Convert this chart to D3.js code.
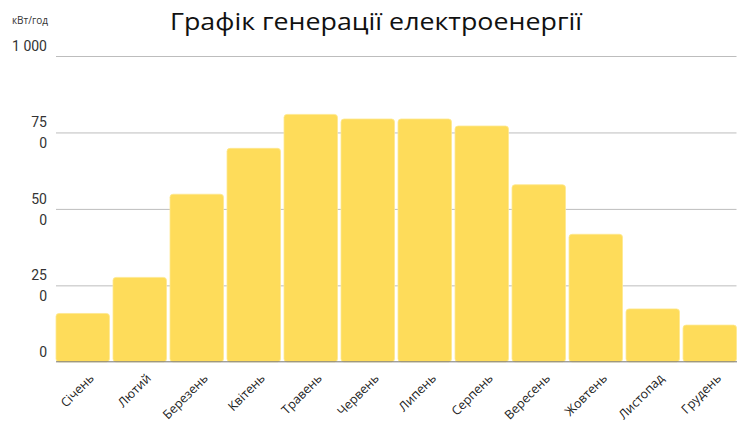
<!DOCTYPE html>
<html>
<head>
<meta charset="utf-8">
<script src="https://cdn.jsdelivr.net/npm/d3@7"></script>
<style>
  body { margin: 0; background: #fff; }
  text { font-family: "Open Sans", "Noto Sans", sans-serif; }
</style>
</head>
<body>
<script>
// chart size
var svgWidth = 737;
var svgHeight = 423;

// data
var months = ["Січень", "Лютий", "Березень", "Квітень", "Травень", "Червень",
  "Липень", "Серпень", "Вересень", "Жовтень", "Листопад", "Грудень"];
var energy = [158, 276, 548, 698, 809, 794, 794, 771, 579, 417, 173, 120];
var tickValues = [0, 250, 500, 750, 1000];
var tickLabels = [["0"], ["25", "0"], ["50", "0"], ["75", "0"], ["1 000"]];

var svg = d3.select("body")
  .append("svg")
  .attr("width", svgWidth)
  .attr("height", svgHeight);

// scales
var xScale = d3.scaleBand()
  .domain(months)
  .range([56, 736.5])
  .paddingInner(0.062)
  .paddingOuter(0);

var yScale = d3.scaleLinear()
  .domain([0, 1000])
  .range([361.8, 56]);

// gridlines
var gridAxis = d3.axisLeft(yScale)
  .tickValues(tickValues.slice(1))
  .tickSize(-(736.5 - 56))
  .tickFormat("");

svg.append("g")
  .attr("transform", "translate(56, 0)")
  .call(gridAxis)
  .call(g => g.select(".domain").remove())
  .call(g => g.selectAll("line").attr("stroke", "#bdbdbd").attr("stroke-width", 1));

// tick labels (wrapped like the original)
var tickGroup = svg.append("g");
tickValues.forEach(function (v, i) {
  var lines = tickLabels[i];
  var y = yScale(v);
  var t = tickGroup.append("text")
    .attr("x", 47)
    .attr("text-anchor", "end")
    .style("font-family", "Roboto, sans-serif")
    .style("font-size", "14px")
    .style("fill", "#333");
  lines.forEach(function (line, j) {
    t.append("tspan")
      .attr("x", 47)
      .attr("y", y - 10 + j * 21)
      .attr("dy", "0.35em")
      .text(line);
  });
});

// bars
svg.append("g")
  .selectAll("rect")
  .data(energy)
  .enter()
  .append("rect")
  .attr("x", (d, i) => xScale(months[i]))
  .attr("y", d => yScale(d))
  .attr("width", xScale.bandwidth())
  .attr("height", d => yScale(0) - yScale(d))
  .attr("rx", 3)
  .attr("ry", 3)
  .attr("fill", "#fedc5a")
  .attr("stroke", "#fee88f")
  .attr("stroke-width", 0.8);

// baseline
svg.append("line")
  .attr("x1", 56)
  .attr("x2", 737)
  .attr("y1", yScale(0))
  .attr("y2", yScale(0))
  .attr("stroke", "#777")
  .attr("stroke-width", 1);

// month labels
svg.append("g")
  .selectAll("text")
  .data(months)
  .enter()
  .append("text")
  .attr("transform", d => `translate(${xScale(d) + xScale.bandwidth() / 2 + 9}, 376) rotate(-45)`)
  .attr("text-anchor", "end")
  .attr("dy", "0.35em")
  .style("font-size", "12.5px")
  .style("fill", "#222")
  .text(d => d);

// unit label
svg.append("text")
  .attr("x", 30)
  .attr("y", 20)
  .attr("text-anchor", "middle")
  .attr("dy", "0.35em")
  .style("font-size", "10px")
  .style("fill", "#333")
  .text("кВт/год");

// title
svg.append("text")
  .attr("x", 376)
  .attr("y", 22)
  .attr("text-anchor", "middle")
  .attr("dy", "0.35em")
  .attr("textLength", 412)
  .attr("lengthAdjust", "spacingAndGlyphs")
  .style("font-size", "24px")
  .style("font-weight", "500")
  .style("fill", "#111")
  .text("Графік генерації електроенергії");
</script>
</body>
</html>
